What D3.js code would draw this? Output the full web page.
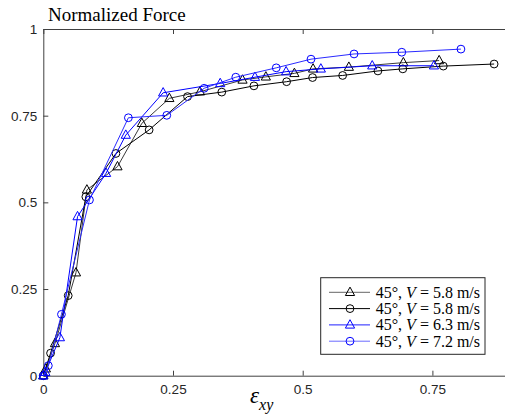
<!DOCTYPE html>
<html><head><meta charset="utf-8">
<script src="https://cdn.jsdelivr.net/npm/d3@7"></script>
<style>body{margin:0;background:#fff;overflow:hidden}svg{display:block}</style>
</head><body><svg id="c" width="505" height="417"></svg>
<script>
const xTicks = [0, 0.25, 0.5, 0.75];
const xTickLabels = ["0", "0.25", "0.5", "0.75"];
const yTicks = [0, 0.25, 0.5, 0.75, 1];
const yTickLabels = ["0", "0.25", "0.5", "0.75", "1"];

const s1x = [0, 0.005, 0.0225, 0.063, 0.084, 0.143, 0.19, 0.243, 0.302, 0.384, 0.429, 0.484, 0.520, 0.589, 0.694, 0.763];
const s1y = [0, 0.02, 0.093, 0.297, 0.536, 0.603, 0.728, 0.80, 0.819, 0.853, 0.862, 0.872, 0.885, 0.890, 0.903, 0.909];
const s2x = [0, 0.014, 0.048, 0.082, 0.140, 0.204, 0.278, 0.344, 0.406, 0.469, 0.519, 0.577, 0.645, 0.693, 0.771, 0.869];
const s2y = [0, 0.065, 0.231, 0.516, 0.641, 0.709, 0.805, 0.818, 0.836, 0.848, 0.860, 0.866, 0.879, 0.885, 0.893, 0.899];
const s3x = [0, 0.004, 0.032, 0.066, 0.121, 0.159, 0.231, 0.341, 0.408, 0.468, 0.535, 0.634, 0.753];
const s3y = [0, 0.01, 0.110, 0.459, 0.584, 0.694, 0.816, 0.843, 0.861, 0.877, 0.885, 0.894, 0.894];
const s4x = [0, 0.0097, 0.035, 0.089, 0.164, 0.238, 0.310, 0.371, 0.449, 0.516, 0.599, 0.691, 0.805];
const s4y = [0, 0.029, 0.177, 0.507, 0.744, 0.751, 0.829, 0.861, 0.888, 0.913, 0.928, 0.933, 0.942];
const legendSpeeds = ["5.8", "5.8", "6.3", "7.2"];

const series = [
  {x: s1x, y: s1y, marker: "tri", line: "#3a3a3a", mk: "#000", legLine: "#666"},
  {x: s2x, y: s2y, marker: "circ", line: "#000", mk: "#000", legLine: "#000"},
  {x: s3x, y: s3y, marker: "tri", line: "#0000ff", mk: "#0000ff", legLine: "#2020ff"},
  {x: s4x, y: s4y, marker: "circ", line: "#2a2aff", mk: "#0000ff", legLine: "#6a6aff"}
];

const serif = "Liberation Serif, Times New Roman, serif";
const sans = "Liberation Sans, Arial, sans-serif";
const svg = d3.select("#c");
const L = 43.3, T = 29, B = 375.7;
const x = d3.scaleLinear().domain([0, 0.9]).range([L, L + 0.9 * 518.8]);
const y = d3.scaleLinear().domain([0, 1]).range([B, T]);
const axCol = "#404040";

const gx = svg.append("g").attr("transform", `translate(0,${B})`)
  .call(d3.axisBottom(x).tickValues(xTicks).tickFormat((d, i) => xTickLabels[i]).tickSizeInner(-5).tickSizeOuter(0).tickPadding(9));
const gxt = svg.append("g").attr("transform", `translate(0,${T})`)
  .call(d3.axisTop(x).tickValues(xTicks).tickFormat("").tickSizeInner(-5).tickSizeOuter(0));
const gy = svg.append("g").attr("transform", `translate(${L},0)`)
  .call(d3.axisLeft(y).tickValues(yTicks).tickFormat((d, i) => yTickLabels[i]).tickSizeInner(-5).tickSizeOuter(0).tickPadding(6));
[gx, gxt, gy].forEach(g => {
  g.attr("font-family", sans).attr("font-size", 13.5);
  g.select(".domain").attr("stroke", axCol);
  g.selectAll(".tick line").attr("stroke", axCol);
  g.selectAll("text").attr("fill", "#262626");
});

const triPath = "M0,-5.2L4.6,3.2L-4.6,3.2Z";
function drawMarker(g, m, col, px, py) {
  if (m === "circ") g.append("circle").attr("cx", px).attr("cy", py).attr("r", 3.9).attr("fill", "none").attr("stroke", col).attr("stroke-width", 1);
  else g.append("path").attr("d", triPath).attr("transform", `translate(${px},${py})`).attr("fill", "none").attr("stroke", col).attr("stroke-width", 1);
}

const line = d3.line().x(d => x(d[0])).y(d => y(d[1]));
series.forEach(s => {
  const pts = s.x.map((v, i) => [v, s.y[i]]);
  const g = svg.append("g");
  g.append("path").attr("d", line(pts)).attr("fill", "none").attr("stroke", s.line).attr("stroke-width", 1);
  pts.forEach(p => drawMarker(g, s.marker, s.mk, x(p[0]), y(p[1])));
});

svg.append("text").attr("x", 48).attr("y", 21).text("Normalized Force")
  .attr("font-family", serif).attr("font-size", 19).attr("fill", "#000");

const xl = svg.append("text").attr("x", 250).attr("y", 403)
  .attr("font-family", serif).attr("font-style", "italic").attr("fill", "#000");
xl.append("tspan").text("ε").attr("font-size", 23);
xl.append("tspan").text("xy").attr("dy", 7).attr("font-size", 16);

const lg = svg.append("g");
lg.append("rect").attr("x", 320.7).attr("y", 277.7).attr("width", 164.3).attr("height", 76.6)
  .attr("fill", "#fff").attr("stroke", "#262626").attr("stroke-width", 1);
series.forEach((s, i) => {
  const cy = 292.3 + i * 16.3;
  lg.append("line").attr("x1", 329).attr("x2", 370).attr("y1", cy).attr("y2", cy).attr("stroke", s.legLine).attr("stroke-width", 1);
  drawMarker(lg, s.marker, s.mk, 350, cy);
  const t = lg.append("text").attr("x", 375.7).attr("y", cy + 5.5)
    .attr("font-family", serif).attr("font-size", 16).attr("fill", "#000");
  t.append("tspan").text("45°, ");
  t.append("tspan").text("V").attr("font-style", "italic");
  t.append("tspan").text(" = " + legendSpeeds[i] + " m/s");
});
</script></body></html>
